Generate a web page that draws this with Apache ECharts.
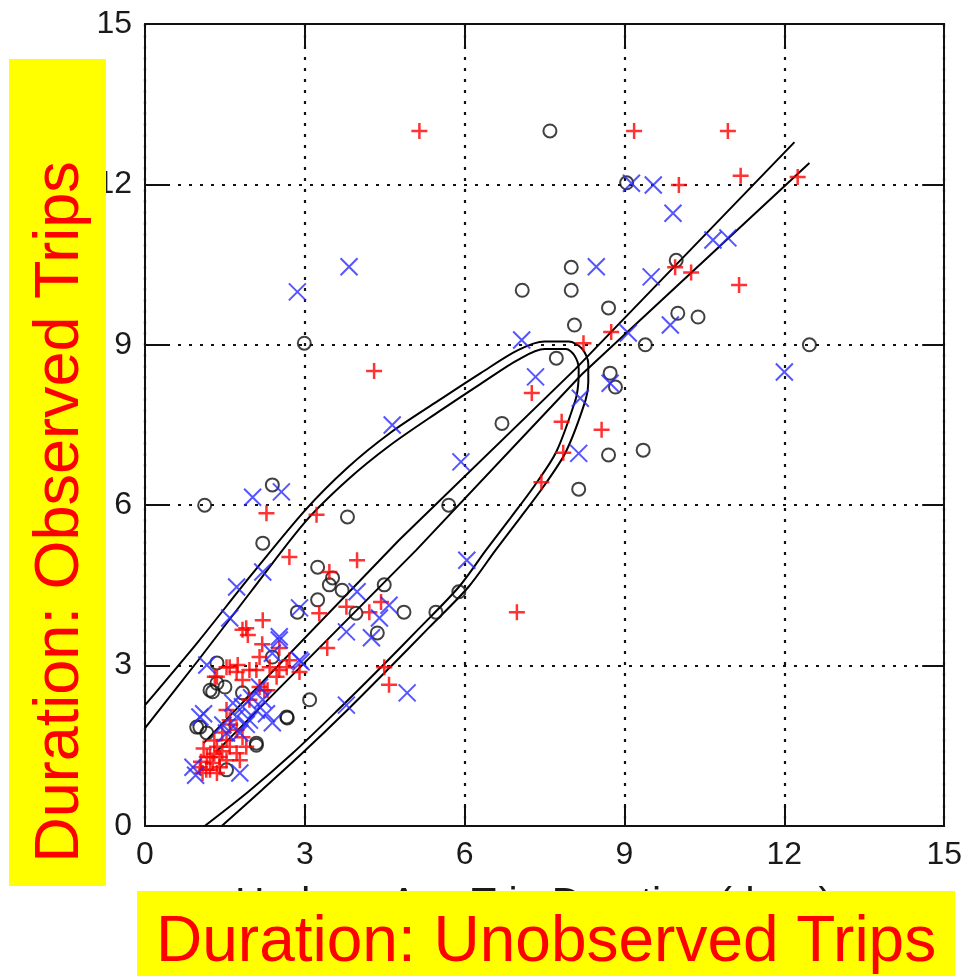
<!DOCTYPE html>
<html>
<head>
<meta charset="utf-8">
<script src="https://cdn.jsdelivr.net/npm/echarts@6/dist/echarts.min.js"></script>
<style>
  html, body { margin: 0; padding: 0; background: #fff; }
  #chart { width: 965px; height: 976px; }
</style>
</head>
<body>
<div id="chart"></div>
<script>
// axis range
const axisMin = 0;
const axisMax = 15;
const axisStep = 3;

// black circles
const circlePoints = [
  [7.6, 13.0], [9.04, 12.03], [8.0, 10.45], [8.0, 10.02], [7.08, 10.02], [9.97, 10.58],
  [8.7, 9.69], [8.06, 9.37], [9.39, 9.0], [10.38, 9.52], [10.0, 9.59], [12.47, 9.0],
  [7.72, 8.75], [8.73, 8.47], [8.83, 8.21], [6.7, 7.53], [9.35, 7.03], [8.7, 6.94],
  [8.14, 6.3], [2.99, 9.03], [5.7, 6.0], [1.12, 6.0], [2.39, 6.38], [3.8, 5.78],
  [2.21, 5.29], [3.24, 4.84], [3.46, 4.51], [3.7, 4.41], [3.52, 4.64], [3.24, 4.23],
  [2.86, 4.0], [4.49, 4.51], [4.86, 4.0], [3.96, 3.98], [4.36, 3.61], [5.46, 4.0],
  [5.89, 4.38], [3.09, 2.36], [2.67, 2.02], [2.09, 1.51], [1.35, 3.05], [1.27, 2.51],
  [1.03, 1.85], [2.39, 3.16], [1.22, 2.54], [1.35, 2.67], [0.97, 1.85], [1.16, 1.74],
  [2.09, 1.55], [2.66, 2.04], [1.83, 2.49], [1.5, 2.6], [1.53, 1.05]
];

// red plus markers
const plusPoints = [
  [5.15, 13.0], [9.18, 13.0], [10.94, 13.0], [10.02, 11.99], [11.18, 12.16], [12.25, 12.14],
  [11.15, 10.12], [10.25, 10.35], [9.95, 10.45], [4.3, 8.51], [8.23, 9.03], [8.75, 9.24],
  [7.26, 8.1], [8.57, 7.41], [7.82, 7.56], [7.85, 6.98], [7.44, 6.43], [6.98, 4.0],
  [2.28, 5.85], [3.22, 5.82], [2.71, 5.03], [3.98, 4.97], [3.46, 4.75], [4.43, 4.19],
  [3.78, 4.1], [3.27, 3.98], [4.21, 4.0], [2.21, 3.85], [1.83, 3.67], [1.93, 3.57],
  [3.42, 3.33], [4.49, 2.97], [4.58, 2.64], [1.9, 3.7], [2.15, 3.16], [1.59, 2.97],
  [1.74, 3.01], [1.96, 2.92], [1.35, 2.79], [1.83, 2.73], [2.34, 2.97], [2.52, 2.92],
  [2.15, 2.6], [2.2, 3.4], [2.52, 3.33], [2.71, 3.1], [2.9, 2.88], [1.96, 2.36],
  [2.24, 2.54], [1.53, 2.97], [1.31, 2.79], [1.72, 2.88], [2.09, 2.92], [2.66, 2.97],
  [2.47, 2.79], [2.3, 2.54], [1.53, 2.17], [1.59, 1.98], [1.72, 1.8], [1.83, 1.66],
  [1.53, 1.61], [1.35, 1.48], [1.16, 1.29], [1.03, 1.1], [1.22, 1.05], [1.4, 1.1],
  [1.08, 0.99], [1.35, 0.99], [1.53, 1.23], [1.72, 1.36], [1.59, 1.48], [1.9, 1.48],
  [1.78, 1.23], [1.4, 1.29], [1.22, 1.29], [1.27, 1.18], [1.1, 1.45], [1.3, 1.6],
  [1.45, 1.75], [1.6, 1.9], [1.05, 1.2], [1.15, 1.05], [1.3, 1.35], [1.45, 1.4]
];

// blue cross markers
const crossPoints = [
  [2.86, 9.99], [3.83, 10.46], [7.07, 9.09], [7.33, 8.4], [4.64, 7.5], [9.13, 12.02],
  [9.54, 11.99], [9.91, 11.46], [8.47, 10.46], [10.94, 11.0], [10.66, 10.96], [9.5, 10.27],
  [9.86, 9.37], [9.07, 9.22], [12.0, 8.49], [8.17, 8.0], [8.73, 8.28], [8.14, 6.97],
  [5.93, 6.81], [6.04, 4.97], [2.02, 6.15], [2.56, 6.25], [1.72, 4.47], [2.21, 4.75],
  [1.59, 3.89], [2.52, 3.54], [2.9, 4.08], [3.78, 3.63], [3.98, 4.38], [4.58, 4.13],
  [4.4, 3.89], [4.25, 3.52], [2.93, 3.07], [4.92, 2.49], [3.78, 2.26], [1.16, 3.01],
  [2.52, 3.48], [2.9, 3.1], [2.39, 3.23], [1.03, 2.04], [0.9, 1.1], [1.78, 0.99],
  [1.46, 1.89], [1.78, 1.74], [2.21, 2.36], [2.39, 1.93], [2.09, 2.17], [1.96, 1.98],
  [1.83, 2.23], [1.72, 2.04], [2.15, 2.6], [1.53, 1.74], [1.65, 2.3], [2.0, 2.4],
  [2.28, 2.1], [1.9, 1.9], [1.1, 2.1], [0.95, 0.95]
];

// contour curves (two close lines each)
const contourOuter = [
  [0, 2.26], [1, 3.45], [2, 4.7], [3, 5.9], [3.8, 6.7], [4.6, 7.35], [5.5, 7.95],
  [6.3, 8.47], [7.0, 8.9], [7.5, 9.06], [7.95, 9.06], [8.2, 8.93], [8.32, 8.65],
  [8.32, 8.3], [8.27, 7.97], [7.9, 7.0], [7.48, 6.35], [7.03, 5.75], [6.58, 5.16],
  [6.07, 4.47], [5.32, 3.7], [4.6, 2.97], [3.78, 2.15], [2.95, 1.36], [2.2, 0.68], [1.44, 0]
];
const contourInner = [
  [0, 1.83], [1, 3.1], [2, 4.4], [3, 5.68], [3.8, 6.47], [4.6, 7.12], [5.5, 7.74],
  [6.3, 8.27], [7.0, 8.72], [7.5, 8.92], [7.9, 8.92], [8.06, 8.8], [8.14, 8.55],
  [8.13, 8.25], [8.08, 7.97], [7.72, 7.0], [7.3, 6.35], [6.85, 5.75], [6.4, 5.16],
  [5.89, 4.47], [5.15, 3.7], [4.43, 2.97], [3.6, 2.15], [2.77, 1.36], [1.95, 0.65], [1.12, 0]
];
const diagUpper = [[1.1, 1.55], [4.77, 5.35], [8.08, 8.55], [12.19, 12.79]];
const diagLower = [[1.35, 1.4], [5.09, 5.16], [8.2, 8.45], [12.47, 12.4]];

const chart = echarts.init(document.getElementById('chart'));

const labelFont = "'Liberation Sans Narrow', 'Liberation Sans', Arial, sans-serif";
const bigFont = "'Liberation Sans', Arial, sans-serif";

function makeAxis(position, showLabel, showSplit) {
  return {
    type: 'value',
    position: position,
    min: axisMin,
    max: axisMax,
    interval: axisStep,
    axisLine: { show: true, onZero: false, lineStyle: { color: '#111', width: 2 } },
    axisTick: { show: true, inside: true, length: 22, lineStyle: { color: '#111', width: 2 } },
    axisLabel: {
      show: showLabel, color: '#1a1a1a', fontSize: 32, fontFamily: labelFont, margin: 13
    },
    splitLine: {
      show: showSplit,
      lineStyle: { color: '#111', width: 2.2, type: [3, 8] }
    }
  };
}

function lineSeries(data, smooth) {
  return {
    type: 'line',
    data: data,
    showSymbol: false,
    silent: true,
    smooth: smooth,
    z: 1,
    lineStyle: { color: '#000', width: 2 }
  };
}

const plusPath = 'path://M0,-10L0,10M-10,0L10,0';
const crossPath = 'path://M-10,-10L10,10M-10,10L10,-10';

const option = {
  animation: false,
  backgroundColor: '#fff',
  grid: { left: 145, right: 18, top: 24, bottom: 150, containLabel: false },
  xAxis: [makeAxis('bottom', true, true), makeAxis('top', false, false)],
  yAxis: [makeAxis('left', true, true), makeAxis('right', false, false)],
  series: [
    lineSeries(contourOuter, 0.3),
    lineSeries(contourInner, 0.3),
    lineSeries(diagUpper, false),
    lineSeries(diagLower, false),
    {
      type: 'scatter',
      data: circlePoints,
      symbol: 'circle',
      symbolSize: 13,
      z: 2,
      itemStyle: { color: 'rgba(0,0,0,0)', borderColor: '#111', borderWidth: 2 }
    },
    {
      type: 'scatter',
      data: plusPoints,
      symbol: plusPath,
      symbolSize: 16,
      z: 3,
      itemStyle: { color: '#ff0000', borderColor: '#ff0000', borderWidth: 2.5 }
    },
    {
      type: 'scatter',
      data: crossPoints,
      symbol: crossPath,
      symbolSize: 17,
      z: 4,
      itemStyle: { color: '#2a2aff', borderColor: '#2a2aff', borderWidth: 2 }
    }
  ],
  graphic: [
    {
      // x-axis title, mostly covered by the yellow box
      type: 'text', z: 50,
      x: 235, y: 905,
      style: {
        text: 'Hadoop Avg Trip Duration (days)', fill: '#1a1a1a',
        font: '41px ' + bigFont, align: 'left', verticalAlign: 'middle'
      }
    },
    {
      type: 'rect', z: 100,
      shape: { x: 9, y: 59, width: 97, height: 827 },
      style: { fill: '#ffff00' }
    },
    {
      type: 'text', z: 101,
      x: 61, y: 512, rotation: Math.PI / 2,
      style: {
        text: 'Duration: Observed Trips', fill: '#ff0000',
        font: '63px ' + bigFont, align: 'center', verticalAlign: 'middle'
      }
    },
    {
      type: 'rect', z: 100,
      shape: { x: 137, y: 891, width: 818, height: 85 },
      style: { fill: '#ffff00' }
    },
    {
      type: 'text', z: 101,
      x: 156, y: 943,
      style: {
        text: 'Duration: Unobserved Trips', fill: '#ff0000',
        font: '64px ' + bigFont, align: 'left', verticalAlign: 'middle'
      }
    }
  ]
};

chart.setOption(option);
</script>
</body>
</html>
